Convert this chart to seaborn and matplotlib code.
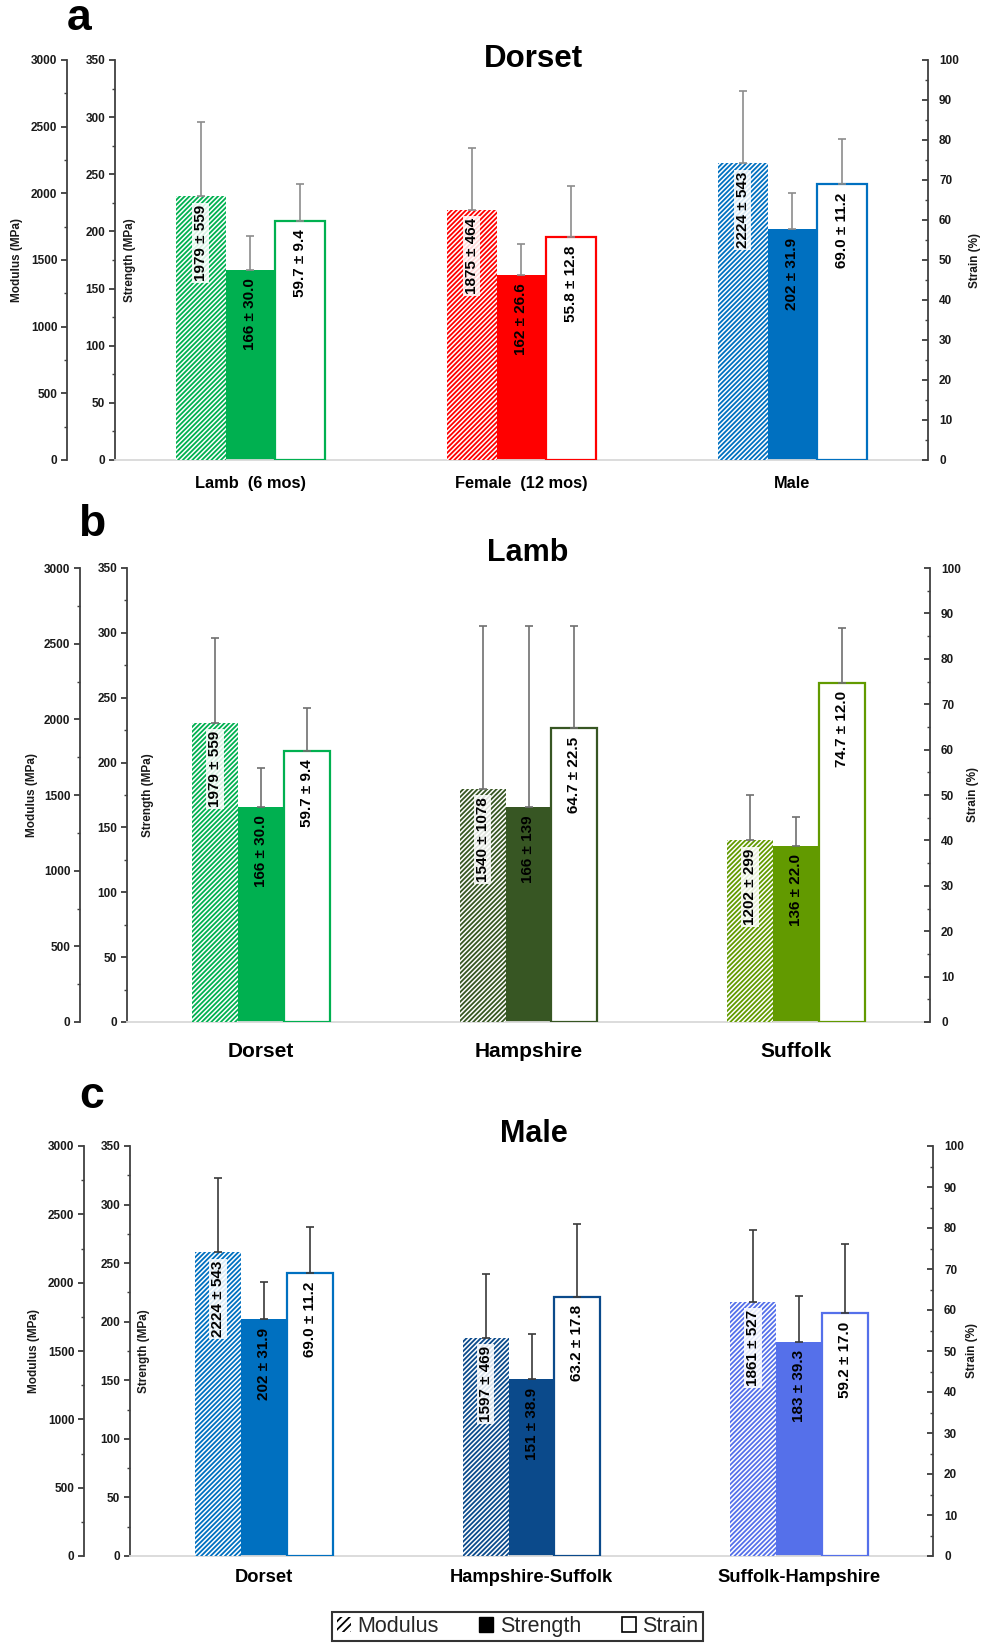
import numpy as np
import pandas as pd
import matplotlib
matplotlib.use('Agg')
import matplotlib.pyplot as plt
import seaborn as sns
from matplotlib.patches import Patch
from matplotlib.ticker import MultipleLocator

# ---- data (mean and SD) ----
measures = ['Modulus', 'Strength', 'Strain']

a_groups = ['Lamb  (6 mos)', 'Female  (12 mos)', 'Male']
a_colors = ['#00B050', '#FF0000', '#0070C0']
a_modulus = [1979, 1875, 2224]
a_modulus_sd = [559, 464, 543]
a_strength = [166, 162, 202]
a_strength_sd = [30.0, 26.6, 31.9]
a_strain = [59.7, 55.8, 69.0]
a_strain_sd = [9.4, 12.8, 11.2]

b_groups = ['Dorset', 'Hampshire', 'Suffolk']
b_colors = ['#00B050', '#375623', '#629A00']
b_modulus = [1979, 1540, 1202]
b_modulus_sd = [559, 1078, 299]
b_strength = [166, 166, 136]
b_strength_sd = [30.0, 139, 22.0]
b_strain = [59.7, 64.7, 74.7]
b_strain_sd = [9.4, 22.5, 12.0]

c_groups = ['Dorset', 'Hampshire-Suffolk', 'Suffolk-Hampshire']
c_colors = ['#0070C0', '#0B4A8B', '#5570EA']
c_modulus = [2224, 1597, 1861]
c_modulus_sd = [543, 469, 527]
c_strength = [202, 151, 183]
c_strength_sd = [31.9, 38.9, 39.3]
c_strain = [69.0, 63.2, 59.2]
c_strain_sd = [11.2, 17.8, 17.0]

sns.set_theme(style='ticks')
plt.rcParams['font.family'] = ['Liberation Sans', 'DejaVu Sans']
plt.rcParams['hatch.linewidth'] = 1.3

W, H = 984, 1646
fig = plt.figure(figsize=(W / 100, H / 100), dpi=100)


def fmt(v):
    return f'{v:.0f}' if v >= 100 else f'{v:.1f}'


def panel(rect, mod_off, letter, letter_xy, title, title_xy, groups, colors,
          mod, mod_sd, stre, stre_sd, strain, strain_sd, width, err_color,
          cat_size, cat_pad, lab_x, font, title_size):
    x0, y0, x1, y1 = rect
    ax = fig.add_axes([x0 / W, 1 - y1 / H, (x1 - x0) / W, (y1 - y0) / H])
    ax_mod = ax.twinx()
    ax_str = ax.twinx()
    axes = {'Modulus': ax_mod, 'Strength': ax, 'Strain': ax_str}

    df = pd.DataFrame({
        'group': groups * 3,
        'measure': np.repeat(measures, len(groups)),
        'value': list(mod) + list(stre) + list(strain),
        'sd': list(mod_sd) + list(stre_sd) + list(strain_sd),
    })

    for m in measures:
        a = axes[m]
        sub = df[df['measure'] == m]
        sns.barplot(data=sub, x='group', y='value', hue='measure',
                    hue_order=measures, order=groups, width=width, dodge=True,
                    palette={k: 'black' for k in measures}, errorbar=None,
                    legend=False, ax=a)
        bars = sorted(a.patches, key=lambda p: p.get_x())
        for p, col, (_, row) in zip(bars, colors, sub.iterrows()):
            xc = p.get_x() + p.get_width() / 2
            top = p.get_height()
            if m == 'Modulus':
                p.set_facecolor('white')
                p.set_edgecolor(col)
                p.set_linewidth(0)
                p.set_hatch('/' * 7)
                if hasattr(p, 'set_hatchcolor'):
                    p.set_hatchcolor(col)
            elif m == 'Strength':
                p.set_facecolor(col)
                p.set_edgecolor(col)
                p.set_linewidth(0)
            else:
                p.set_facecolor('white')
                p.set_edgecolor(col)
                p.set_linewidth(1.6)
            a.errorbar([xc], [top], yerr=[[0], [row['sd']]], fmt='none',
                       ecolor=err_color, elinewidth=1.2, capsize=3, capthick=1.2,
                       zorder=5)
            box = dict(boxstyle='square,pad=0.12', fc='white', ec='none',
                       alpha=0.85) if m == 'Modulus' else None
            a.annotate(f"{fmt(row['value'])} ± {fmt(row['sd'])}", (xc, top),
                       xytext=(0, -6), textcoords='offset points', rotation=90,
                       ha='center', va='top', fontsize=11, fontweight='bold',
                       color='black', bbox=box, zorder=6)
        a.set_xlabel('')
        a.set_ylabel('')

    ax.set_xlim(-0.5, len(groups) - 0.5)

    # y scales
    ax.set_ylim(0, 350)
    ax_mod.set_ylim(0, 3000)
    ax_str.set_ylim(0, 100)
    ax.yaxis.set_major_locator(MultipleLocator(50))
    ax.yaxis.set_minor_locator(MultipleLocator(25))
    ax_mod.yaxis.set_major_locator(MultipleLocator(500))
    ax_mod.yaxis.set_minor_locator(MultipleLocator(250))
    ax_str.yaxis.set_major_locator(MultipleLocator(10))
    ax_str.yaxis.set_minor_locator(MultipleLocator(5))

    ax_mod.yaxis.set_ticks_position('left')
    ax_mod.spines['left'].set_position(('outward', mod_off * 0.72))

    spine_col = '#404040'
    for a in (ax, ax_mod, ax_str):
        for s in a.spines.values():
            s.set_visible(False)
    ax.spines['left'].set_visible(True)
    ax_mod.spines['left'].set_visible(True)
    ax_str.spines['right'].set_visible(True)
    ax.spines['bottom'].set_visible(True)
    ax.spines['bottom'].set_color('#d9d9d9')
    ax.spines['bottom'].set_linewidth(1.3)
    for a, s in ((ax, 'left'), (ax_mod, 'left'), (ax_str, 'right')):
        a.spines[s].set_color(spine_col)
        a.spines[s].set_linewidth(1.3)

    tick_kw = dict(labelsize=8.5, colors='#1a1a1a', width=1.1, length=4)
    ax.tick_params(axis='y', which='major', direction='out', pad=3, **tick_kw)
    ax.tick_params(axis='y', which='minor', direction='out', length=2,
                   width=1, color='#404040')
    ax_mod.tick_params(axis='y', which='major', direction='out', pad=3,
                       left=True, right=False, labelleft=True, labelright=False,
                       **tick_kw)
    ax_mod.tick_params(axis='y', which='minor', direction='out', length=2,
                       width=1, left=True, right=False, color='#404040')
    ax_str.tick_params(axis='y', which='major', direction='in', pad=8, **tick_kw)
    ax_str.tick_params(axis='y', which='minor', direction='in', length=2,
                       width=1, color='#404040')
    for a in (ax, ax_mod, ax_str):
        for t in a.get_yticklabels():
            t.set_fontweight('bold')
            t.set_family(font)

    ax.tick_params(axis='x', length=0, pad=cat_pad, labelsize=cat_size,
                   colors='black')
    for t in ax.get_xticklabels():
        t.set_fontweight('bold')
        t.set_family(font)

    # axis titles
    lab_kw = dict(rotation=90, ha='center', va='center', fontsize=8.5,
                  fontweight='bold', color='#1a1a1a', transform=ax.transAxes,
                  family=font)
    ax.text(lab_x[0], 0.5, 'Modulus (MPa)', **lab_kw)
    ax.text(lab_x[1], 0.5, 'Strength (MPa)', **lab_kw)
    ax.text(lab_x[2], 0.5, 'Strain (%)', **lab_kw)

    fig.text(title_xy[0] / W, 1 - title_xy[1] / H, title, ha='center',
             va='center', fontsize=title_size, fontweight='bold',
             color='black', family=font)
    fig.text(letter_xy[0] / W, 1 - letter_xy[1] / H, letter, ha='center',
             va='center', fontsize=32, fontweight='bold', color='black')


panel((115, 60, 928, 460), 48, 'a', (79, 18), 'Dorset', (533, 59),
      a_groups, a_colors, a_modulus, a_modulus_sd, a_strength, a_strength_sd,
      a_strain, a_strain_sd, 0.553, '#8c8c8c', 11.8, 11.5,
      (-0.1205, 0.018, 1.058), ['Liberation Sans', 'DejaVu Sans'], 22.5)

panel((127, 568, 930, 1022), 47, 'b', (92, 524), 'Lamb', (528, 553),
      b_groups, b_colors, b_modulus, b_modulus_sd, b_strength, b_strength_sd,
      b_strain, b_strain_sd, 0.515, '#6f6f6f', 15, 14.5,
      (-0.118, 0.026, 1.054), ['Liberation Sans', 'DejaVu Sans'], 22)

panel((130, 1146, 933, 1556), 46, 'c', (92, 1097), 'Male', (534, 1134),
      c_groups, c_colors, c_modulus, c_modulus_sd, c_strength, c_strength_sd,
      c_strain, c_strain_sd, 0.515, '#3a3a3a', 13.2, 9.5,
      (-0.120, 0.017, 1.049),
      ['Liberation Sans Narrow', 'Liberation Sans', 'DejaVu Sans'], 22)

# shared legend at the bottom
handles = [Patch(facecolor='white', edgecolor='black', hatch='////', lw=0),
           Patch(facecolor='black', edgecolor='black'),
           Patch(facecolor='white', edgecolor='black', lw=1.2)]
leg = fig.legend(handles, measures, loc='center', bbox_to_anchor=(0.526, 0.0118),
                 ncol=3, fontsize=15.5, frameon=True, fancybox=False,
                 edgecolor='black', handlelength=0.65, handleheight=0.65,
                 handletextpad=0.3, columnspacing=1.9, borderpad=0.2)
leg.get_frame().set_linewidth(1.5)

fig.savefig('out.png', dpi=100)
